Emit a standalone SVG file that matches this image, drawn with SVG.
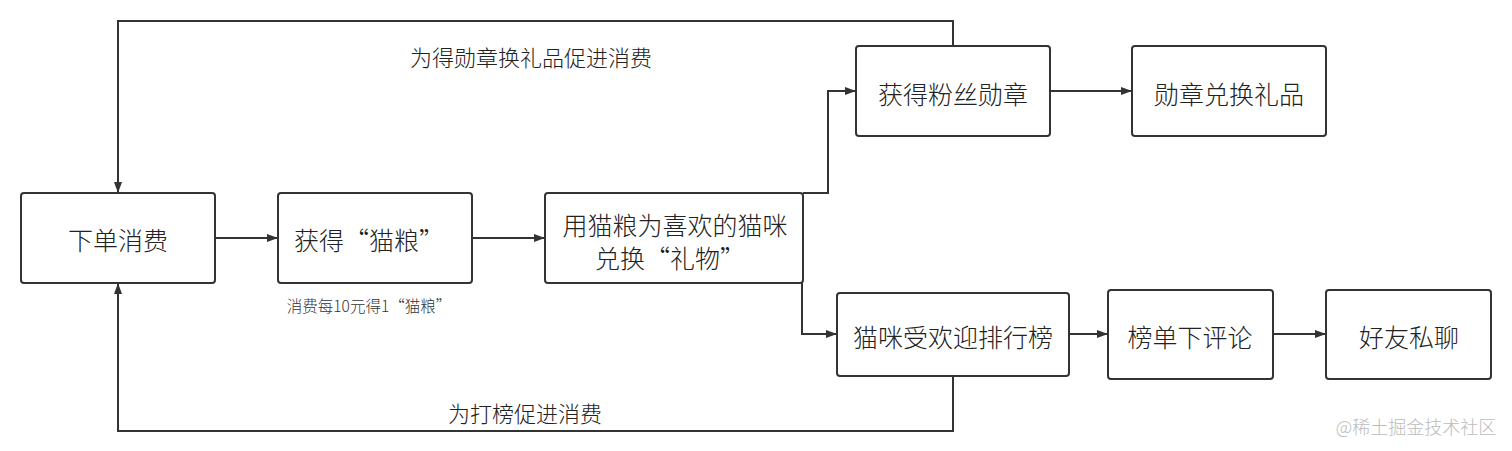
<svg xmlns="http://www.w3.org/2000/svg" width="1512" height="451" viewBox="0 0 1512 451">
<defs>
<marker id="arr" viewBox="0 0 11 8" refX="11" refY="4" markerWidth="11" markerHeight="8" markerUnits="userSpaceOnUse" orient="auto">
<path d="M0,0 L11,4 L0,8 Z" fill="#333"/>
</marker>
</defs>
<style>
.box{fill:#fff;stroke:#333;stroke-width:2}
.t{font-family:"Noto Sans CJK SC","Noto Sans",sans-serif;font-size:25px;font-weight:300;fill:#222;text-anchor:middle;dominant-baseline:central}
.lbl{font-family:"Noto Sans CJK SC","Noto Sans",sans-serif;font-size:22px;font-weight:300;fill:#222;text-anchor:middle;dominant-baseline:central}
.sm{font-family:"Noto Sans CJK SC","Noto Sans",sans-serif;font-size:15.5px;font-weight:300;fill:#333;text-anchor:middle;dominant-baseline:central}
.c{fill:none;stroke:#333;stroke-width:2}
</style>
<rect width="1512" height="451" fill="#fff"/>
<g id="connectors">
<path class="c" d="M953,46 V21 H118 V193" marker-end="url(#arr)"/>
<path class="c" d="M953,376 V431 H118 V283" marker-end="url(#arr)"/>
<path class="c" d="M215,238 H278" marker-end="url(#arr)"/>
<path class="c" d="M472,238 H545" marker-end="url(#arr)"/>
<path class="c" d="M803,193 H828 V91 H856" marker-end="url(#arr)"/>
<path class="c" d="M802,283 V334 H837" marker-end="url(#arr)"/>
<path class="c" d="M1050,91 H1132" marker-end="url(#arr)"/>
<path class="c" d="M1069,334 H1108" marker-end="url(#arr)"/>
<path class="c" d="M1273,334 H1326" marker-end="url(#arr)"/>
</g>
<g id="labels">
<text class="lbl" x="531" y="56">为得勋章换礼品促进消费</text>
<text class="lbl" x="525" y="412">为打榜促进消费</text>
<text class="sm" x="369" y="305">消费每10元得1“猫粮”</text>
</g>
<g id="n1"><rect class="box" x="21" y="193" width="194" height="90" rx="3"/><text class="t" x="118" y="239">下单消费</text></g>
<g id="n2"><rect class="box" x="278" y="193" width="194" height="90" rx="3"/><text class="t" x="369" y="239">获得“猫粮”</text></g>
<g id="n3"><rect class="box" x="545" y="193" width="258" height="90" rx="3"/><text class="t" x="675" y="224">用猫粮为喜欢的猫咪</text><text class="t" x="670" y="257">兑换“礼物”</text></g>
<g id="n4"><rect class="box" x="856" y="46" width="194" height="90" rx="3"/><text class="t" x="953" y="93">获得粉丝勋章</text></g>
<g id="n5"><rect class="box" x="1132" y="46" width="194" height="90" rx="3"/><text class="t" x="1229" y="93">勋章兑换礼品</text></g>
<g id="n6"><rect class="box" x="837" y="293" width="232" height="83" rx="3"/><text class="t" x="953" y="336">猫咪受欢迎排行榜</text></g>
<g id="n7"><rect class="box" x="1108" y="290" width="165" height="89" rx="3"/><text class="t" x="1190" y="336">榜单下评论</text></g>
<g id="n8"><rect class="box" x="1326" y="290" width="165" height="89" rx="3"/><text class="t" x="1409" y="336">好友私聊</text></g>
<text x="1416" y="426" font-family="'Noto Sans CJK SC','Noto Sans',sans-serif" font-size="18px" font-weight="300" fill="#bbb" text-anchor="middle" dominant-baseline="central">@稀土掘金技术社区</text>
</svg>
